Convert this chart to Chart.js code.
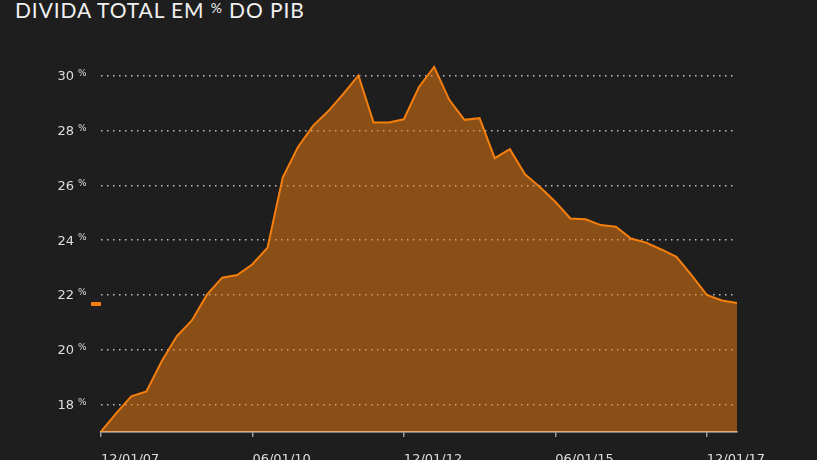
<!DOCTYPE html>
<html>
<head>
<meta charset="utf-8">
<script src="https://cdn.jsdelivr.net/npm/chart.js@4.4.1/dist/chart.umd.min.js"></script>
<style>
    html, body {margin: 0; padding: 0; background: #1e1e1e; overflow: hidden;}
    .debtChart {position: relative; width: 817px; height: 460px;}
    .debtTitle {position: absolute; left: 15px; top: -3px; color: #f0f0f0; font-family: Lato, sans-serif; font-size: 21px; letter-spacing: 0.9px; white-space: nowrap;}
    .debtTitle span {font-size: 14px; position: relative; top: -5px;}
    #debtCanvas {position: absolute; left: 0; top: 0;}
</style>
</head>
<body>
<div class="debtChart">
    <div class="debtTitle">DIVIDA TOTAL EM <span>%</span> DO PIB</div>
    <canvas id="debtCanvas" width="817" height="475"></canvas>
</div>
<script>
// quarterly dates, Q4 2007 .. Q2 2018
let quarters = [
    "12/01/07", "03/01/08", "06/01/08", "09/01/08", "12/01/08",
    "03/01/09", "06/01/09", "09/01/09", "12/01/09", "03/01/10",
    "06/01/10", "09/01/10", "12/01/10", "03/01/11", "06/01/11",
    "09/01/11", "12/01/11", "03/01/12", "06/01/12", "09/01/12",
    "12/01/12", "03/01/13", "06/01/13", "09/01/13", "12/01/13",
    "03/01/14", "06/01/14", "09/01/14", "12/01/14", "03/01/15",
    "06/01/15", "09/01/15", "12/01/15", "03/01/16", "06/01/16",
    "09/01/16", "12/01/16", "03/01/17", "06/01/17", "09/01/17",
    "12/01/17", "03/01/18", "06/01/18"
];

// total debt, % of GDP
let debtPct = [
    17.01, 17.68, 18.30, 18.48, 19.57, 20.49, 21.07, 22.01, 22.63, 22.73,
    23.12, 23.73, 26.28, 27.39, 28.17, 28.70, 29.34, 30.01, 28.29, 28.29,
    28.41, 29.59, 30.32, 29.12, 28.39, 28.45, 26.99, 27.32, 26.40, 25.93,
    25.40, 24.79, 24.76, 24.55, 24.49, 24.06, 23.91, 23.66, 23.39, 22.72,
    22.00, 21.80, 21.71
];

let yTicks = [18, 20, 22, 24, 26, 28, 30];
let tickEvery = 10;

let orange = "#f57f0e";

// y labels with a small raised "%"
let yLabelPlugin = {
    id: 'yLabels',
    afterDraw(chart) {
        let ctx = chart.ctx;
        let y = chart.scales.y;
        ctx.save();
        ctx.fillStyle = "#dedede";
        ctx.textBaseline = "middle";
        yTicks.forEach(v => {
            let py = y.getPixelForValue(v);
            ctx.font = "13px 'DejaVu Sans', sans-serif";
            ctx.textAlign = "right";
            ctx.fillText(String(v), 74, py + 1);
            ctx.font = "9px 'DejaVu Sans', sans-serif";
            ctx.textAlign = "left";
            ctx.fillText("%", 78, py - 2);
        });
        // lone legend marker
        ctx.fillStyle = orange;
        ctx.fillRect(chart.chartArea.left - 10, 302, 10, 4);
        ctx.restore();
    }
};

let ctx = document.getElementById("debtCanvas");
new Chart(ctx, {
    type: 'line',
    data: {
        labels: quarters,
        datasets: [{
            label: '',
            data: debtPct,
            borderColor: orange,
            backgroundColor: "rgba(245,127,14,0.5)",
            borderWidth: 2,
            fill: 'start',
            tension: 0,
            pointRadius: 0
        }]
    },
    options: {
        responsive: false,
        animation: false,
        layout: {padding: {left: 0, right: 80, top: 62, bottom: 0}},
        scales: {
            x: {
                afterBuildTicks: scale => {
                    scale.ticks = scale.ticks.filter(t => t.value % tickEvery === 0);
                },
                afterFit: scale => { scale.height = 43; },
                grid: {drawOnChartArea: false, drawTicks: true, tickLength: 5, color: "#9a9a9a", lineWidth: 1.5},
                border: {display: true, color: "#ddd6cc", width: 1.5},
                ticks: {
                    autoSkip: false,
                    maxRotation: 0,
                    align: 'start',
                    padding: 15,
                    color: "#dedede",
                    font: {family: "'DejaVu Sans', sans-serif", size: 13}
                }
            },
            y: {
                min: 17,
                max: 30.5,
                afterBuildTicks: scale => {
                    scale.ticks = yTicks.map(v => ({value: v}));
                },
                afterFit: scale => { scale.width = 101; },
                border: {display: false, dash: [1.5, 4.5]},
                grid: {color: "rgba(220,220,220,0.85)", lineWidth: 1.5, drawTicks: false},
                ticks: {display: false}
            }
        },
        plugins: {
            legend: {display: false},
            title: {display: false},
            tooltip: {enabled: false}
        }
    },
    plugins: [yLabelPlugin]
});
</script>
</body>
</html>
